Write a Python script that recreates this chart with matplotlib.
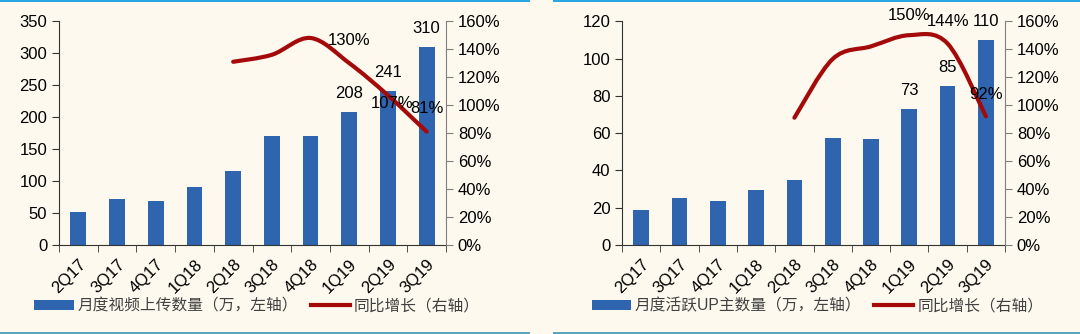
import numpy as np
import matplotlib
matplotlib.use("Agg")
import matplotlib.pyplot as plt
from matplotlib.path import Path
from matplotlib.patches import PathPatch, Patch, Rectangle
from matplotlib.lines import Line2D
from matplotlib.ticker import PercentFormatter

plt.rcParams['font.family'] = ['Liberation Sans', 'Noto Sans CJK SC']

quarters = ['2Q17', '3Q17', '4Q17', '1Q18', '2Q18', '3Q18', '4Q18', '1Q19', '2Q19', '3Q19']

# left panel: monthly video uploads (10k) and yoy growth (%)
uploads = [51, 72, 69, 91, 115, 171, 171, 208, 241, 310]
uploads_yoy = [131, 136, 148, 130, 107, 81]          # from 2Q18
# right panel: monthly active UP (10k) and yoy growth (%)
up_users = [18.5, 25, 23.5, 29.5, 35, 57.5, 57, 73, 85, 110]
up_yoy = [91, 133, 142, 150, 144, 92]                # from 2Q18

bar_label_idx = [7, 8, 9]
left_pct_labels = {3: (0, 16.5), 4: (3, -6), 5: (0, 17)}   # index in yoy -> offset (pt)
right_pct_labels = {3: (0, 14), 4: (0, 16), 5: (0, 16)}

BG = '#FDF9EE'
BAR = '#2F64AE'
LINE = '#A50A0A'


def smooth_path(xs, ys):
    # Catmull-Rom through the points, drawn as cubic Bezier segments
    pts = np.column_stack([xs, ys]).astype(float)
    verts = [pts[0]]
    codes = [Path.MOVETO]
    n = len(pts)
    for i in range(n - 1):
        p0 = pts[i - 1] if i > 0 else pts[i]
        p1 = pts[i]
        p2 = pts[i + 1]
        p3 = pts[i + 2] if i + 2 < n else pts[i + 1]
        verts += [p1 + (p2 - p0) / 6, p2 - (p3 - p1) / 6, p2]
        codes += [Path.CURVE4] * 3
    return Path(verts, codes)


def panel(rect, values, yoy, ymax, ystep, bar_name, pct_labels, legend_x):
    ax = fig.add_axes(rect)
    ax.set_facecolor('none')
    x = np.arange(len(quarters))
    ax.bar(x, values, width=0.41, color=BAR, zorder=2)
    ax.set_xlim(-0.5, len(quarters) - 0.5)
    ax.set_ylim(0, ymax)
    ax.set_yticks(np.arange(0, ymax + 1, ystep))
    ax.set_xticks(x)
    ax.set_xticklabels(quarters, rotation=45, ha='right', rotation_mode='anchor')
    ax.set_xticks(np.arange(-0.5, len(quarters)), minor=True)
    ax.tick_params(axis='x', which='major', length=0, pad=8.5, labelsize=12)
    ax.tick_params(axis='x', which='minor', length=5, direction='out', color='#333333')
    ax.tick_params(axis='y', length=5, direction='out', labelsize=12, color='#333333')
    for s in ['top', 'right']:
        ax.spines[s].set_visible(False)
    ax.spines['left'].set_color('#333333')
    ax.spines['bottom'].set_color('#333333')
    for i in bar_label_idx:
        ax.annotate(f'{values[i]:g}', (x[i], values[i]), xytext=(0, 13.5),
                    textcoords='offset points', ha='center', va='center', fontsize=12)

    ax2 = ax.twinx()
    ax2.set_ylim(0, 160)
    ax2.set_yticks(np.arange(0, 161, 20))
    ax2.yaxis.set_major_formatter(PercentFormatter(decimals=0))
    ax2.tick_params(axis='y', length=5, direction='out', labelsize=12, color='#808080')
    for s in ['top', 'left', 'bottom']:
        ax2.spines[s].set_visible(False)
    ax2.spines['right'].set_color('#808080')
    lx = x[len(quarters) - len(yoy):]
    ax2.add_patch(PathPatch(smooth_path(lx, yoy), facecolor='none', edgecolor=LINE,
                            lw=3, capstyle='round', zorder=3))
    for i, off in pct_labels.items():
        ax2.annotate(f'{yoy[i]}%', (lx[i], yoy[i]), xytext=off, textcoords='offset points',
                     ha='center', va='center', fontsize=12, zorder=4)

    handles = [Patch(facecolor=BAR), Line2D([], [], color=LINE, lw=3)]
    names = [bar_name, '同比增长（右轴）']
    fig.legend(handles, names, loc='center', bbox_to_anchor=(legend_x, 0.084), ncol=2,
               frameon=False, fontsize=11.3, handlelength=2.5, handleheight=0.6,
               columnspacing=0.8, handletextpad=0.25, labelcolor='#404040')
    return ax


fig = plt.figure(figsize=(10.8, 3.34), dpi=100)
fig.patch.set_facecolor(BG)

panel([0.0546, 0.2665, 0.3584, 0.670], uploads, uploads_yoy, 350, 50,
      '月度视频上传数量（万，左轴）', left_pct_labels, 0.238)
panel([0.576, 0.2665, 0.3546, 0.670], up_users, up_yoy, 120, 20,
      '月度活跃UP主数量（万，左轴）', right_pct_labels, 0.757)

# frame lines of the report page
fig.add_artist(Rectangle((0, 0.994), 0.491, 0.006, transform=fig.transFigure,
                         color='#2AA6E2', lw=0))
fig.add_artist(Rectangle((0.512, 0.994), 0.488, 0.006, transform=fig.transFigure,
                         color='#2AA6E2', lw=0))
fig.add_artist(Rectangle((0, 0.0), 0.491, 0.006, transform=fig.transFigure,
                         color='#5BA6B8', lw=0))
fig.add_artist(Rectangle((0.512, 0.0), 0.488, 0.006, transform=fig.transFigure,
                         color='#5BA6B8', lw=0))

fig.savefig('out.png', dpi=100, facecolor=BG)
